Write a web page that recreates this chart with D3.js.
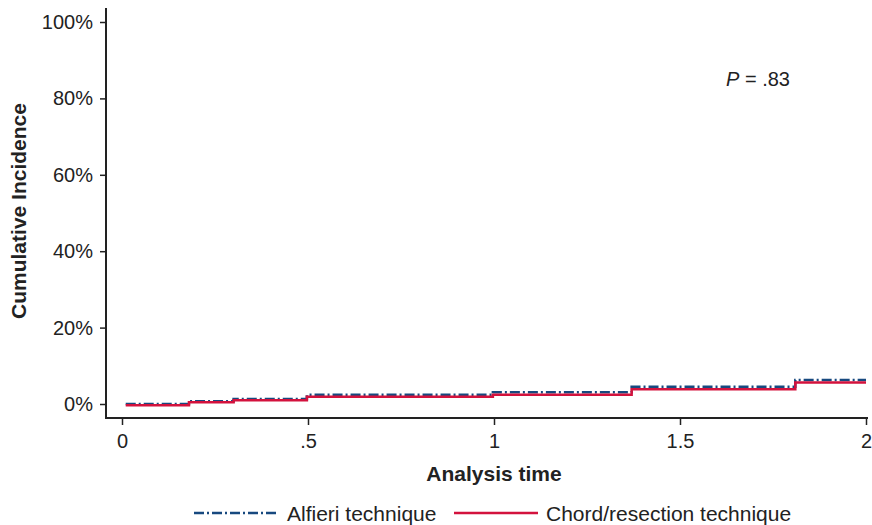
<!DOCTYPE html>
<html>
<head>
<meta charset="utf-8">
<script src="https://cdn.jsdelivr.net/npm/d3@7"></script>
<style>
  body { margin: 0; background: #fff; }
  svg text { font-family: "Liberation Sans", Arial, Helvetica, sans-serif; fill: #222; }
</style>
</head>
<body>
<div id="chart"></div>
<script>
// step times (analysis time, years) and cumulative incidence (%) per group
const stepTimes = [0.01, 0.18, 0.30, 0.497, 0.997, 1.37, 1.81, 2.0];
const alfieriValues = [0, 0.7, 1.3, 2.4, 3.1, 4.5, 6.3];
const chordValues = [-0.35, 0.45, 0.95, 1.9, 2.4, 3.85, 5.6];
const seriesNames = ["Alfieri technique", "Chord/resection technique"];
const yTicks = [0, 20, 40, 60, 80, 100];
const xTicks = [0, 0.5, 1, 1.5, 2];
const xTickLabels = ["0", ".5", "1", "1.5", "2"];
const pText = ".83";

const W = 872, H = 525;
const axisColour = "#222";
const blue = "#17497f";
const red = "#d3123d";

const svg = d3.select("#chart").append("svg")
  .attr("width", W).attr("height", H);

const x = d3.scaleLinear().domain([0, 2]).range([122, 866]);
const y = d3.scaleLinear().domain([0, 100]).range([404, 22]);

const axisX0 = 106, axisY0 = 418;

// axis lines
svg.append("line")
  .attr("x1", axisX0).attr("x2", axisX0)
  .attr("y1", 8).attr("y2", axisY0 + 1)
  .attr("stroke", axisColour).attr("stroke-width", 2);
svg.append("line")
  .attr("x1", axisX0 - 1).attr("x2", 868)
  .attr("y1", axisY0).attr("y2", axisY0)
  .attr("stroke", axisColour).attr("stroke-width", 2);

// y axis
const yAxis = svg.append("g")
  .attr("transform", "translate(" + axisX0 + ",0)")
  .call(d3.axisLeft(y).tickValues(yTicks).tickSize(6).tickPadding(7)
    .tickFormat(d => d + "%"));
yAxis.select(".domain").remove();
yAxis.selectAll(".tick line").attr("stroke", axisColour).attr("stroke-width", 1.5);
yAxis.selectAll(".tick text").attr("font-size", 20).attr("fill", axisColour);

// x axis
const xAxis = svg.append("g")
  .attr("transform", "translate(0," + axisY0 + ")")
  .call(d3.axisBottom(x).tickValues(xTicks).tickSize(7).tickPadding(9)
    .tickFormat((d, i) => xTickLabels[i]));
xAxis.select(".domain").remove();
xAxis.selectAll(".tick line").attr("stroke", axisColour).attr("stroke-width", 1.5);
xAxis.selectAll(".tick text").attr("font-size", 20).attr("fill", axisColour);

// axis titles
svg.append("text")
  .attr("x", (x(0) + x(2)) / 2).attr("y", 481)
  .attr("text-anchor", "middle")
  .attr("font-size", 21).attr("font-weight", "bold")
  .text("Analysis time");

svg.append("text")
  .attr("transform", "translate(26," + (y(50) - 2) + ") rotate(-90)")
  .attr("text-anchor", "middle")
  .attr("font-size", 21).attr("font-weight", "bold")
  .text("Cumulative Incidence");

// step curves
function stepData(values) {
  const pts = values.map((v, i) => [stepTimes[i], v]);
  pts.push([stepTimes[stepTimes.length - 1], values[values.length - 1]]);
  return pts;
}
const line = d3.line()
  .x(d => x(d[0]))
  .y(d => y(d[1]))
  .curve(d3.curveStepAfter);

svg.append("path")
  .datum(stepData(alfieriValues))
  .attr("d", line)
  .attr("fill", "none")
  .attr("stroke", blue)
  .attr("stroke-width", 2.5)
  .attr("stroke-dasharray", "10,3,2,3");

svg.append("path")
  .datum(stepData(chordValues))
  .attr("d", line)
  .attr("fill", "none")
  .attr("stroke", red)
  .attr("stroke-width", 2.5);

// P value
const pLabel = svg.append("text")
  .attr("x", 726).attr("y", 86)
  .attr("font-size", 20);
pLabel.append("tspan").attr("font-style", "italic").text("P");
pLabel.append("tspan").text(" = " + pText);

// legend
const legend = svg.append("g").attr("transform", "translate(0,513)");
const legendItems = [
  { name: seriesNames[0], colour: blue, dash: "10,3,2,3", x1: 194, x2: 279, tx: 287 },
  { name: seriesNames[1], colour: red, dash: null, x1: 454, x2: 538, tx: 546 }
];
legendItems.forEach(d => {
  legend.append("line")
    .attr("x1", d.x1).attr("x2", d.x2)
    .attr("y1", 0).attr("y2", 0)
    .attr("stroke", d.colour).attr("stroke-width", 2.5)
    .attr("stroke-dasharray", d.dash);
  legend.append("text")
    .attr("x", d.tx).attr("y", 7.5)
    .attr("font-size", 21)
    .text(d.name);
});
</script>
</body>
</html>
